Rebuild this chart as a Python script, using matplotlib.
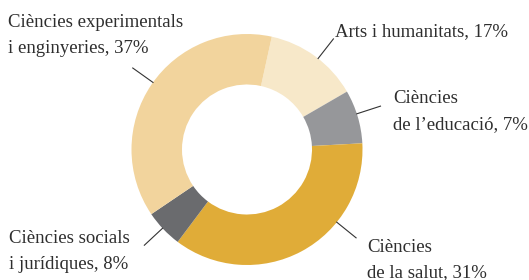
import numpy as np
import matplotlib
matplotlib.use("Agg")
import matplotlib.pyplot as plt

# Data
categories = ["Arts i humanitats", "Ciències de l’educació", "Ciències de la salut",
              "Ciències socials i jurídiques", "Ciències experimentals i enginyeries"]
label_pcts = [17, 7, 31, 8, 37]
# wedge sizes as drawn in the reference (degrees-based shares, %)
wedge_shares = [13.2, 7.5, 36.1, 5.3, 37.9]
label_lines = [
    ["Arts i humanitats, 17%"],
    ["Ciències", "de l’educació, 7%"],
    ["Ciències", "de la salut, 31%"],
    ["Ciències socials", "i jurídiques, 8%"],
    ["Ciències experimentals", "i enginyeries, 37%"],
]

colors = ["#F7E8C9", "#96979A", "#E0AC38", "#6A6B6E", "#F2D49D"]

W, H = 529, 280
fig = plt.figure(figsize=(W / 100, H / 100), dpi=100)
ax = fig.add_axes([0, 0, 1, 1])
ax.set_xlim(0, W)
ax.set_ylim(0, H)
ax.axis("off")

cx, cy = 247, H - 149.5
R, r_in = 115.5, 65
start = 90 - 12.4
ax.pie(wedge_shares, colors=colors, startangle=start, counterclock=False,
       center=(cx, cy), radius=R, frame=True,
       wedgeprops=dict(width=R - r_in, linewidth=0))
ax.set_xlim(0, W)
ax.set_ylim(0, H)
ax.set_aspect("equal")
ax.axis("off")

# leader line angles (degrees clockwise from top)
leader_angles = [38, 72, 129, 227, 305.5]
for a in leader_angles:
    t = np.deg2rad(a)
    r1, r2 = R * 0.995, R * 1.22
    ax.plot([cx + r1 * np.sin(t), cx + r2 * np.sin(t)],
            [cy + r1 * np.cos(t), cy + r2 * np.cos(t)],
            color="#333333", lw=0.8, solid_capstyle="butt")

# label anchor positions (x left, first baseline y from top)
label_pos = [(335, 36.5), (393, 103), (367, 251.5), (9, 243), (8, 27)]
line_gap = 26
font = dict(family="Liberation Serif", size=13.5, color="#2E2E2E")
for lines, (x, y) in zip(label_lines, label_pos):
    for i, s in enumerate(lines):
        ax.text(x, H - (y + i * line_gap), s, ha="left", va="baseline", **font)

fig.savefig("out.png", dpi=100)
